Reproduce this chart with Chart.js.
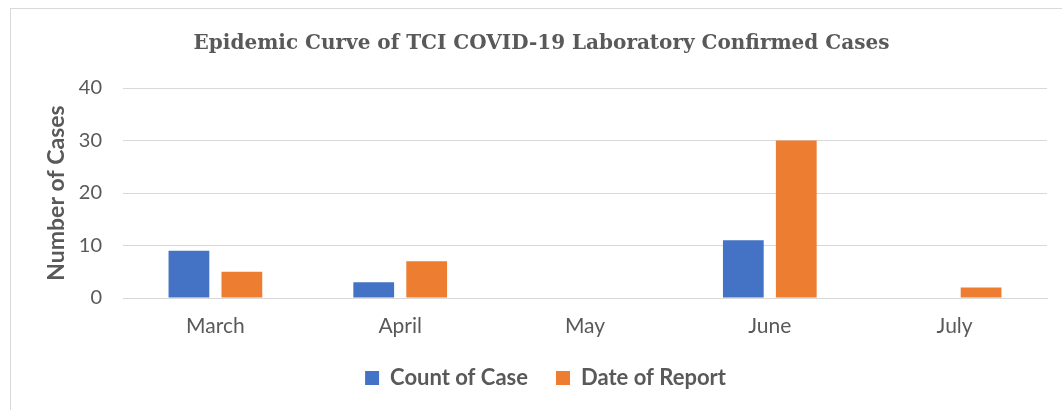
<!DOCTYPE html>
<html>
<head>
<meta charset="utf-8">
<script src="https://cdn.jsdelivr.net/npm/chart.js@4"></script>
<style>
  html, body { margin: 0; padding: 0; background: #fff; overflow: hidden; }
  #frame { position: absolute; left: 10px; top: 8px; width: 1100px; height: 500px; border: 1px solid #d9d9d9; }
  #wrap { position: absolute; left: 0; top: 0; width: 1062px; height: 410px; }
</style>
</head>
<body>
<div id="frame"></div>
<div id="wrap"><canvas id="epiChart" width="1062" height="410"></canvas></div>
<script>
// Data
const months = ['March', 'April', 'May', 'June', 'July'];
const countOfCase = [9, 3, 0, 11, 0];
const dateOfReport = [5, 7, 0, 30, 2];
const yTicks = [0, 10, 20, 30, 40];

const grey = '#595959';
const sans = 'Lato, "Open Sans", sans-serif';

// nudge the title and legend a bit to the right, like the original
const blockShift = {
    id: 'blockShift',
    afterLayout(chart) {
        chart.legend.left += 22;
        chart.legend.right += 22;
        chart.titleBlock.left += 18;
        chart.titleBlock.right += 18;
    }
};

const ctx = document.getElementById('epiChart');

new Chart(ctx, {
    type: 'bar',
    data: {
        labels: months,
        datasets: [
            { label: 'Count of Case', data: countOfCase, backgroundColor: '#4472C4' },
            { label: 'Date of Report', data: dateOfReport, backgroundColor: '#ED7D31' }
        ]
    },
    options: {
        responsive: false,
        animation: false,
        categoryPercentage: 0.573,
        barPercentage: 0.77,
        layout: { padding: { left: 0, right: 15, top: 0, bottom: 11 } },
        scales: {
            x: {
                afterFit: function(scale) { scale.height = 41; },
                grid: { display: false, drawTicks: false },
                border: { display: true, color: '#d9d9d9', width: 1 },
                ticks: { color: grey, font: { family: sans, size: 21 }, padding: 16 }
            },
            y: {
                min: 0,
                max: 40,
                afterFit: function(scale) { scale.width = 123; },
                afterBuildTicks: function(scale) {
                    scale.ticks = yTicks.map(v => ({ value: v }));
                },
                grid: { color: '#d9d9d9', drawTicks: false },
                border: { display: false },
                ticks: { color: grey, font: { family: sans, size: 20 }, padding: 21 },
                title: {
                    display: true,
                    text: 'Number of Cases',
                    color: grey,
                    font: { family: sans, size: 23, weight: 'bold' },
                    padding: { top: 43, bottom: 0 }
                }
            }
        },
        plugins: {
            title: {
                display: true,
                text: 'Epidemic Curve of TCI COVID-19 Laboratory Confirmed Cases',
                color: grey,
                font: { family: '"DejaVu Serif", serif', size: 20, weight: 'bold' },
                padding: { top: 32, bottom: 32 }
            },
            legend: {
                position: 'bottom',
                labels: {
                    color: grey,
                    boxWidth: 14,
                    boxHeight: 14,
                    padding: 28,
                    font: { family: sans, size: 22, weight: 'bold' }
                }
            },
            tooltip: { enabled: false }
        }
    },
    plugins: [blockShift]
});
</script>
</body>
</html>
